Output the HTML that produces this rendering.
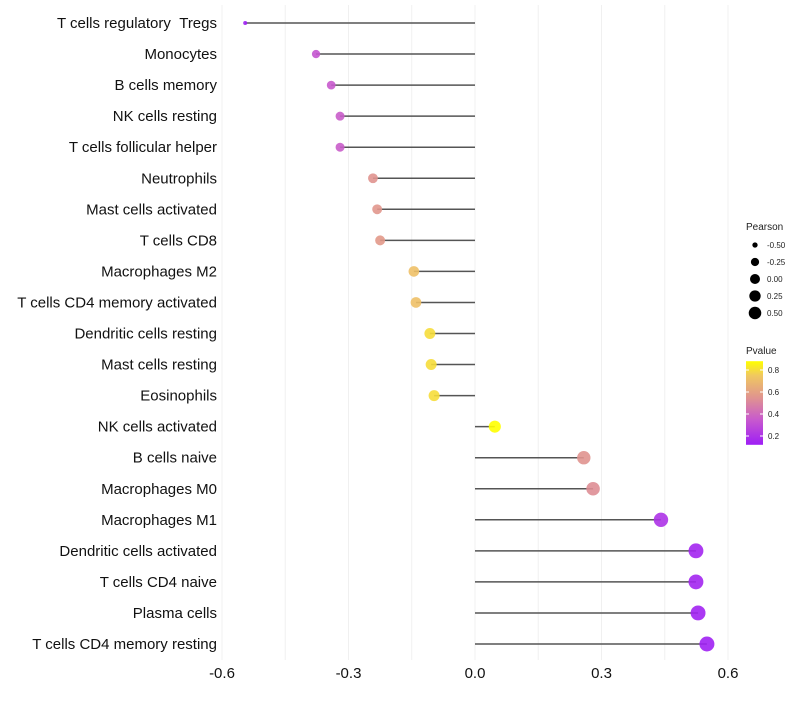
<!DOCTYPE html>
<html><head><meta charset="utf-8"><style>
body{margin:0;background:#fff;font-family:"Liberation Sans",sans-serif}
</style></head><body>
<svg id="chart" width="800" height="700" xmlns="http://www.w3.org/2000/svg"></svg>
<script>
const categories=["T cells regulatory \u00a0Tregs","Monocytes","B cells memory","NK cells resting","T cells follicular helper","Neutrophils","Mast cells activated","T cells CD8","Macrophages M2","T cells CD4 memory activated","Dendritic cells resting","Mast cells resting","Eosinophils","NK cells activated","B cells naive","Macrophages M0","Macrophages M1","Dendritic cells activated","T cells CD4 naive","Plasma cells","T cells CD4 memory resting"];
const pearson=[-0.545,-0.377,-0.341,-0.320,-0.320,-0.242,-0.232,-0.225,-0.145,-0.140,-0.107,-0.104,-0.097,0.047,0.258,0.280,0.441,0.524,0.524,0.529,0.550];
const pvalues=[0.13,0.33,0.35,0.36,0.36,0.55,0.56,0.57,0.72,0.72,0.8,0.8,0.8,0.88,0.55,0.53,0.2,0.15,0.15,0.14,0.13];
const xTicks=[-0.6,-0.3,0.0,0.3,0.6];
const xTickLabels=["-0.6","-0.3","0.0","0.3","0.6"];
const sizeLegend=[-0.5,-0.25,0,0.25,0.5];
const sizeLegendLabels=["-0.50","-0.25","0.00","0.25","0.50"];
const colorLegend=[0.8,0.6,0.4,0.2];

const NS="http://www.w3.org/2000/svg";
const svg=document.getElementById('chart');
const X=v=>475+v*421.67;
const Y=i=>23+i*31.05;
const R=v=>2+5.5*Math.sqrt(Math.max(0,(v+0.545)/1.095));
const stops=[[0.12,[158,30,245]],[0.35,[200,90,205]],[0.55,[224,148,143]],[0.75,[240,200,96]],[0.88,[255,255,0]]];
function col(p){
  if(p<=stops[0][0])return 'rgb('+stops[0][1].join(',')+')';
  for(let i=1;i<stops.length;i++){if(p<=stops[i][0]){const a=stops[i-1],b=stops[i];const t=(p-a[0])/(b[0]-a[0]);return 'rgb('+a[1].map((c,k)=>Math.round(c+(b[1][k]-c)*t)).join(',')+')';}}
  return 'rgb('+stops[stops.length-1][1].join(',')+')';
}
function el(t,a,txt){const e=document.createElementNS(NS,t);for(const k in a)e.setAttribute(k,a[k]);if(txt!==undefined)e.textContent=txt;svg.appendChild(e);return e;}
for(let v=-0.6;v<=0.601;v+=0.15){
  const g=el('line',{x1:X(v),x2:X(v),y1:5,y2:660,stroke:'#f0f0f0','stroke-width':1});
  
  
}
xTicks.forEach((v,i)=>{
  const t=el('text',{x:X(v),y:678,'text-anchor':'middle','font-size':15,fill:'#111'},xTickLabels[i]);
  
  
});
categories.forEach((c,i)=>{
  const y=Y(i);
  const t=el('text',{x:217,y:y+5,'text-anchor':'end','font-size':15,fill:'#111'},c);
  
  
  const l=el('line',{x1:X(0),x2:X(pearson[i]),y1:y,y2:y,stroke:'#555','stroke-width':1.5});
  
  
  const d=el('circle',{cx:X(pearson[i]),cy:y,r:R(pearson[i]),fill:col(pvalues[i]),'fill-opacity':0.9});
  
  
});
const lt=el('text',{x:746,y:230,'font-size':10,fill:'#222'},'Pearson');


sizeLegend.forEach((v,i)=>{
  const y=245+i*17;
  const c=el('circle',{cx:755,cy:y,r:R(v)*0.85,fill:'#000'});
  
  
  const t=el('text',{x:767,y:y+3,'font-size':8,fill:'#222'},sizeLegendLabels[i]);
  
  
});
const ct=el('text',{x:746,y:354,'font-size':10,fill:'#222'},'Pvalue');


const defs=el('defs',{});
const lg=document.createElementNS(NS,'linearGradient');lg.setAttribute('id','pg');lg.setAttribute('x1','0');lg.setAttribute('y1','1');lg.setAttribute('x2','0');lg.setAttribute('y2','0');
defs.appendChild(lg);
const py=p=>436-(p-0.2)*110;
const barTop=py(0.88),barBot=py(0.12);
stops.forEach(s=>{const st=document.createElementNS(NS,'stop');st.setAttribute('offset',(s[0]-0.12)/0.76);st.setAttribute('stop-color','rgb('+s[1].join(',')+')');lg.appendChild(st);});
const bar=el('rect',{x:746,y:barTop,width:17,height:barBot-barTop,fill:'url(#pg)'});


colorLegend.forEach(p=>{
  el('line',{x1:746,x2:749,y1:py(p),y2:py(p),stroke:'#fff','stroke-width':1});
  el('line',{x1:760,x2:763,y1:py(p),y2:py(p),stroke:'#fff','stroke-width':1});
  const t=el('text',{x:768,y:py(p)+3,'font-size':8,fill:'#222'},p.toFixed(1));
  
  
});
</script>
</body></html>
